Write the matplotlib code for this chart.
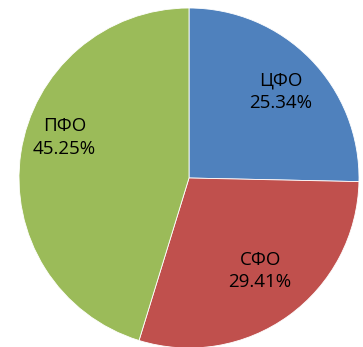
import numpy as np
import matplotlib
matplotlib.use("Agg")
import matplotlib.pyplot as plt

labels = ["ЦФО", "СФО", "ПФО"]
shares = [25.34, 29.41, 45.25]
colors = ["#4F81BD", "#C0504D", "#9BBB59"]
# label placement: distance from centre and angular nudge (degrees)
label_dist = [0.74, 0.69, 0.77]
label_shift = [-1.0, 1.5, -9.5]

fig = plt.figure(figsize=(3.63, 3.47), dpi=100)
ax = fig.add_axes([19 / 363, -1 / 347, 340 / 363, 340 / 347])

wedges, _ = ax.pie(shares, colors=colors, startangle=90, counterclock=False,
                   wedgeprops=dict(edgecolor="white", linewidth=0.6))
ax.set_xlim(-1, 1)
ax.set_ylim(-1, 1)
ax.set_aspect("equal")

for w, name, val, d, sh in zip(wedges, labels, shares, label_dist, label_shift):
    mid = np.deg2rad((w.theta1 + w.theta2) / 2 + sh)
    ax.text(d * np.cos(mid), d * np.sin(mid), f"{name}\n{val:.2f}%",
            ha="center", va="center", fontsize=13.5, family="Open Sans",
            linespacing=1.3, color="black")

fig.savefig("out.png", dpi=100)
